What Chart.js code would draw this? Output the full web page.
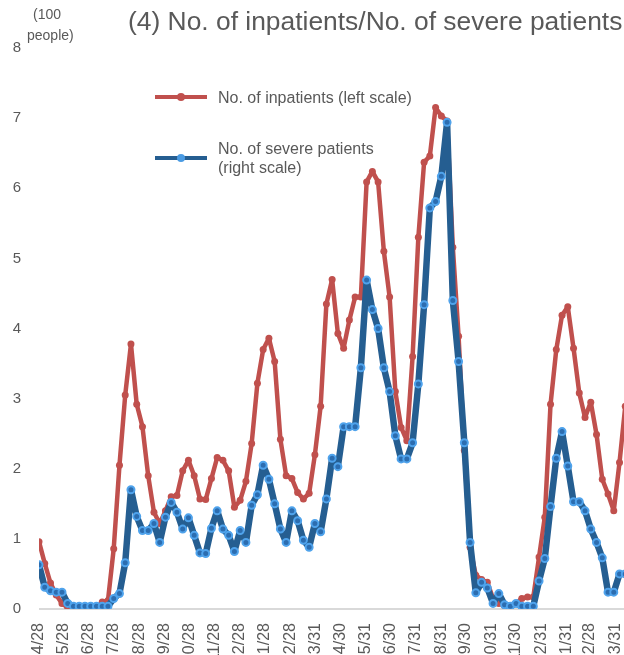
<!DOCTYPE html>
<html>
<head>
<meta charset="utf-8">
<script src="https://cdn.jsdelivr.net/npm/chart.js@4.4.1/dist/chart.umd.min.js"></script>
<style>
  html, body { margin: 0; padding: 0; width: 624px; height: 655px; overflow: hidden; background: #fff; }
  body { font-family: "Liberation Sans", Arial, sans-serif; color: #595959; }
  #wrap { position: relative; width: 660px; height: 700px; }
  #chart { position: absolute; left: 0; top: 0; }
  .txt { position: absolute; white-space: nowrap; }
  .swatch { position: absolute; }
  .dot { position: absolute; border-radius: 50%; }
</style>
</head>
<body>
<div id="wrap">
  <canvas id="chart" width="660" height="700"></canvas>
  <div class="txt" id="title" style="left:128px; top:6px; font-size:26.4px; line-height:30px;">(4) No. of inpatients/No. of severe patients</div>
  <div class="txt" style="left:33px; top:6px; font-size:14px; line-height:16px;">(100</div>
  <div class="txt" style="left:27px; top:27px; font-size:14px; line-height:16px;">people)</div>

  <!-- legend -->
  <div class="swatch" style="left:155px; top:95px; width:52px; height:4px; background:#C0504D;"></div>
  <div class="dot" style="left:177px; top:93px; width:8px; height:8px; background:#C0504D;"></div>
  <div class="txt" style="left:218px; top:88px; font-size:16px; line-height:19px;">No. of inpatients (left scale)</div>

  <div class="swatch" style="left:155px; top:156px; width:52px; height:4px; background:#255E91;"></div>
  <div class="dot" style="left:177px; top:154px; width:8px; height:8px; background:#4A9BE3;"></div>
  <div class="txt" style="left:218px; top:139px; font-size:16px; line-height:19px;">No. of severe patients<br>(right scale)</div>
</div>
<script>
// weekly reporting dates
const dates = [
  '2020-04-28','2020-05-05','2020-05-12','2020-05-19','2020-05-26','2020-06-02','2020-06-09','2020-06-16','2020-06-23','2020-06-30',
  '2020-07-07','2020-07-14','2020-07-21','2020-07-28','2020-08-04','2020-08-11','2020-08-18','2020-08-25','2020-09-01','2020-09-08',
  '2020-09-15','2020-09-22','2020-09-29','2020-10-06','2020-10-13','2020-10-20','2020-10-27','2020-11-03','2020-11-10','2020-11-17',
  '2020-11-24','2020-12-01','2020-12-08','2020-12-15','2020-12-22','2020-12-29','2021-01-05','2021-01-12','2021-01-19','2021-01-26',
  '2021-02-02','2021-02-09','2021-02-16','2021-02-23','2021-03-02','2021-03-09','2021-03-16','2021-03-23','2021-03-30','2021-04-06',
  '2021-04-13','2021-04-20','2021-04-27','2021-05-04','2021-05-11','2021-05-18','2021-05-25','2021-06-01','2021-06-08','2021-06-15',
  '2021-06-22','2021-06-29','2021-07-06','2021-07-13','2021-07-20','2021-07-27','2021-08-03','2021-08-10','2021-08-17','2021-08-24',
  '2021-08-31','2021-09-07','2021-09-14','2021-09-21','2021-09-28','2021-10-05','2021-10-12','2021-10-19','2021-10-26','2021-11-02',
  '2021-11-09','2021-11-16','2021-11-23','2021-11-30','2021-12-07','2021-12-14','2021-12-21','2021-12-28','2022-01-04','2022-01-11',
  '2022-01-18','2022-01-25','2022-02-01','2022-02-08','2022-02-15','2022-02-22','2022-03-01','2022-03-08','2022-03-15','2022-03-22',
  '2022-03-29','2022-04-05','2022-04-12'
];

// No. of inpatients, hundreds of people (left scale)
const inpatients = [
  0.96,0.65,0.37,0.2,0.08,0.02,0.01,0.01,0.01,0.01,
  0.02,0.1,0.12,0.86,2.05,3.05,3.78,2.92,2.6,1.9,
  1.38,1.22,1.4,1.6,1.62,1.97,2.12,1.9,1.57,1.56,
  1.86,2.16,2.12,1.97,1.45,1.55,1.82,2.36,3.22,3.7,
  3.86,3.53,2.42,1.9,1.86,1.66,1.57,1.65,2.2,2.89,
  4.35,4.7,3.93,3.72,4.12,4.45,4.45,6.09,6.24,6.09,
  5.1,4.45,3.1,2.59,2.4,3.6,5.3,6.37,6.46,7.15,
  7.03,6.96,5.16,3.89,2.26,0.88,0.48,0.42,0.38,0.15,
  0.08,0.05,0.05,0.08,0.15,0.17,0.17,0.74,1.31,2.92,
  3.7,4.19,4.31,3.72,3.08,2.73,2.95,2.49,1.85,1.64,
  1.4,2.09,2.89
];

// No. of severe patients (right scale, read against the left grid)
const severe = [
  0.63,0.31,0.26,0.24,0.24,0.08,0.04,0.04,0.04,0.04,
  0.04,0.04,0.04,0.15,0.22,0.66,1.7,1.32,1.12,1.12,
  1.22,0.95,1.31,1.52,1.38,1.14,1.3,1.05,0.8,0.79,
  1.15,1.4,1.14,1.05,0.82,1.12,0.95,1.48,1.63,2.05,
  1.85,1.5,1.14,0.95,1.4,1.26,0.98,0.88,1.22,1.1,
  1.57,2.15,2.03,2.6,2.6,2.6,3.44,4.69,4.27,4.0,
  3.44,3.1,2.47,2.14,2.14,2.37,3.21,4.34,5.72,5.81,
  6.17,6.94,4.4,3.53,2.37,0.95,0.23,0.38,0.3,0.08,
  0.22,0.06,0.04,0.08,0.04,0.04,0.04,0.4,0.72,1.46,
  2.15,2.53,2.04,1.53,1.53,1.4,1.14,0.95,0.73,0.24,
  0.24,0.5,0.5
];

// axis label dates (monthly, excel style)
const tickDates = [
  '2020-04-28','2020-05-28','2020-06-28','2020-07-28','2020-08-28','2020-09-28','2020-10-28','2020-11-28','2020-12-28',
  '2021-01-28','2021-02-28','2021-03-31','2021-04-30','2021-05-31','2021-06-30','2021-07-31','2021-08-31','2021-09-30',
  '2021-10-31','2021-11-30','2021-12-31','2022-01-31','2022-02-28','2022-03-31'
];
const tickLabels = [
  '4/28','5/28','6/28','7/28','8/28','9/28','10/28','11/28','12/28',
  '1/28','2/28','3/31','4/30','5/31','6/30','7/31','8/31','9/30',
  '10/31','11/30','12/31','1/31','2/28','3/31'
];

const DAY = 86400000;
const t0 = Date.parse(dates[0]);
const dayOf = d => Math.round((Date.parse(d) - t0) / DAY);

const tickDays = tickDates.map(dayOf);
const toPoints = vals => vals.map((v, i) => ({ x: dayOf(dates[i]), y: v }));

const font = { family: '"Liberation Sans", Arial, sans-serif' };

new Chart(document.getElementById('chart'), {
  type: 'line',
  data: {
    datasets: [
      {
        label: 'No. of severe patients (right scale)',
        data: toPoints(severe),
        borderColor: '#255E91',
        borderWidth: 6.5,
        borderJoinStyle: 'round',
        borderCapStyle: 'round',
        pointRadius: 3.5,
        pointBackgroundColor: '#2C6DB0',
        pointBorderColor: '#4FA3EC',
        pointBorderWidth: 2,
        tension: 0,
        order: 0
      },
      {
        label: 'No. of inpatients (left scale)',
        data: toPoints(inpatients),
        borderColor: '#C0504D',
        borderWidth: 4.5,
        borderJoinStyle: 'round',
        borderCapStyle: 'round',
        pointRadius: 3.5,
        pointBackgroundColor: '#C0504D',
        pointBorderWidth: 0,
        tension: 0,
        order: 1
      }
    ]
  },
  options: {
    responsive: false,
    devicePixelRatio: 1,
    animation: false,
    events: [],
    layout: { padding: { top: 48, left: 0, right: 0, bottom: 0 } },
    plugins: { legend: { display: false }, title: { display: false }, tooltip: { enabled: false } },
    scales: {
      x: {
        type: 'linear',
        min: 0,
        max: 749,
        afterBuildTicks: s => { s.ticks = tickDays.map(v => ({ value: v })); },
        afterFit: s => { s.height = 91; },
        ticks: {
          autoSkip: false,
          minRotation: 90,
          maxRotation: 90,
          padding: 6,
          color: '#595959',
          font: { ...font, size: 16 },
          callback: (value, index) => tickLabels[index]
        },
        grid: { display: false },
        border: { display: false }
      },
      y: {
        min: 0,
        max: 8,
        afterFit: s => { s.width = 39; },
        ticks: {
          stepSize: 1,
          padding: 18,
          color: '#595959',
          font: { ...font, size: 15 }
        },
        grid: {
          drawTicks: false,
          lineWidth: 2,
          color: c => (c.tick && c.tick.value === 0 ? '#D9D9D9' : 'rgba(0,0,0,0)')
        },
        border: { display: false }
      }
    }
  }
});
</script>
</body>
</html>
